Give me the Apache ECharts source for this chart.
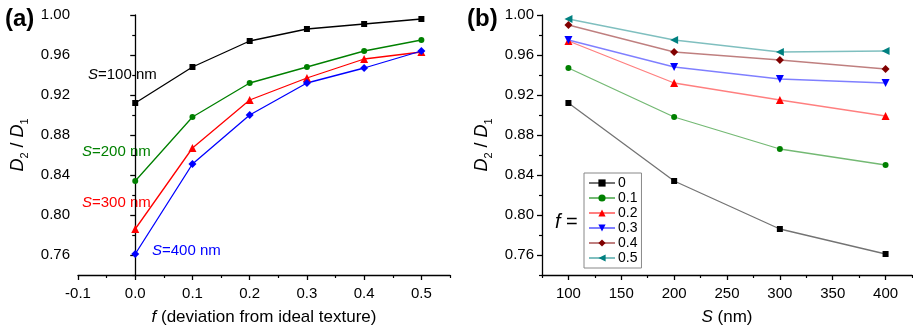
<!DOCTYPE html>
<html>
<head>
<meta charset="utf-8">
<script src="https://cdn.jsdelivr.net/npm/echarts@6/dist/echarts.min.js"></script>
<style>
  html, body { margin: 0; padding: 0; background: #fff; }
  #chart { width: 913px; height: 333px; }
</style>
</head>
<body>
<div id="chart"></div>
<script>
// panel (a): D2/D1 vs f, one line per S
const fValues = [0, 0.1, 0.2, 0.3, 0.4, 0.5];
const ratioS100 = [0.912, 0.948, 0.974, 0.986, 0.991, 0.996];
const ratioS200 = [0.834, 0.898, 0.932, 0.948, 0.964, 0.975];
const ratioS300 = [0.786, 0.867, 0.915, 0.937, 0.956, 0.963];
const ratioS400 = [0.761, 0.851, 0.900, 0.932, 0.947, 0.964];

// panel (b): D2/D1 vs S, one line per f
const sValues = [100, 200, 300, 400];
const ratioF00 = [0.912, 0.834, 0.786, 0.761];
const ratioF01 = [0.947, 0.898, 0.866, 0.850];
const ratioF02 = [0.974, 0.932, 0.915, 0.899];
const ratioF03 = [0.975, 0.948, 0.936, 0.932];
const ratioF04 = [0.990, 0.963, 0.955, 0.946];
const ratioF05 = [0.996, 0.975, 0.963, 0.964];

const yLabelTicks = [0.76, 0.80, 0.84, 0.88, 0.92, 0.96, 1.00];
const yMinorTicks = [0.74, 0.78, 0.82, 0.86, 0.90, 0.94, 0.98];
const xaLabelTicks = [-0.1, 0, 0.1, 0.2, 0.3, 0.4, 0.5];
const xaMinorTicks = [-0.05, 0.05, 0.15, 0.25, 0.35, 0.45, 0.55];
const xbLabelTicks = [100, 150, 200, 250, 300, 350, 400];
const xbMinorTicks = [75, 125, 175, 225, 275, 325, 375, 425];

const FONT = "Liberation Sans";
const zip = (xs, ys) => xs.map((x, i) => [x, ys[i]]);

function mainAxis(gridIndex, min, max, labels, fmt, margin) {
  return {
    type: "value", gridIndex, min, max,
    axisLine: { show: true, lineStyle: { color: "#000", width: 1.3 } },
    axisTick: { show: true, inside: false, length: 5, customValues: labels, lineStyle: { color: "#000", width: 1.3 } },
    axisLabel: { customValues: labels, formatter: fmt, margin, color: "#000", fontSize: 15, fontFamily: FONT },
    splitLine: { show: false },
  };
}
function minorAxis(gridIndex, min, max, ticks) {
  return {
    type: "value", gridIndex, min, max,
    axisLine: { show: false },
    axisTick: { show: true, length: 3, customValues: ticks, lineStyle: { color: "#000", width: 1.2 } },
    axisLabel: { show: false },
    splitLine: { show: false },
  };
}

const yName = {
  name: "{i|D}{s|2}{n| / }{i|D}{s|1}",
  nameLocation: "middle",
  nameRotate: 90,
  nameGap: 48,
  nameTextStyle: {
    rich: {
      i: { fontFamily: FONT, fontStyle: "italic", fontSize: 18, lineHeight: 24, color: "#000" },
      n: { fontFamily: FONT, fontSize: 18, lineHeight: 24, color: "#000" },
      s: { fontFamily: FONT, fontSize: 11, lineHeight: 12, verticalAlign: "bottom", color: "#000" },
    },
  },
};
const xNameStyle = {
  rich: { i: { fontFamily: FONT, fontStyle: "italic", fontSize: 17, color: "#000" } },
  fontFamily: FONT, fontSize: 17, color: "#000",
};

const fmtY = (v) => v.toFixed(2);
const fmtXa = (v) => v.toFixed(1);
const fmtXb = (v) => String(v);

function lineSeries(name, xAxisIndex, yAxisIndex, data, color, symbol, size, rotate, opacity) {
  return {
    type: "line", name, xAxisIndex, yAxisIndex, data,
    symbol, symbolSize: size, symbolRotate: rotate,
    lineStyle: { color, width: 1.3, opacity },
    itemStyle: { color },
    emphasis: { disabled: true },
  };
}

const option = {
  animation: false,
  backgroundColor: "#fff",
  grid: [
    { left: 78, top: 15, width: 372, height: 260 },
    { left: 542, top: 15, width: 370, height: 260 },
  ],
  xAxis: [
    Object.assign(mainAxis(0, -0.1, 0.55, xaLabelTicks, fmtXa, 11), {
      name: "{i|f} (deviation from ideal texture)",
      nameLocation: "middle", nameGap: 34, nameTextStyle: xNameStyle,
    }),
    Object.assign(mainAxis(1, 75, 425, xbLabelTicks, fmtXb, 11), {
      name: "{i|S} (nm)",
      nameLocation: "middle", nameGap: 34, nameTextStyle: xNameStyle,
    }),
    Object.assign(minorAxis(0, -0.1, 0.55, xaMinorTicks), { position: "bottom" }),
    Object.assign(minorAxis(1, 75, 425, xbMinorTicks), { position: "bottom" }),
  ],
  yAxis: [
    Object.assign(mainAxis(0, 0.74, 1.0, yLabelTicks, fmtY, 8), yName),
    Object.assign(mainAxis(1, 0.74, 1.0, yLabelTicks, fmtY, 8), yName),
    Object.assign(minorAxis(0, 0.74, 1.0, yMinorTicks), { position: "left" }),
    Object.assign(minorAxis(1, 0.74, 1.0, yMinorTicks), { position: "left" }),
  ],
  legend: {
    show: true,
    orient: "vertical",
    left: 584, top: 173,
    padding: [3, 4, 3, 4],
    itemGap: 1,
    itemWidth: 26, itemHeight: 9,
    borderColor: "#888", borderWidth: 1,
    textStyle: { fontFamily: FONT, fontSize: 14, lineHeight: 14, color: "#000", padding: [0, 0, 0, -2] },
    data: ["0", "0.1", "0.2", "0.3", "0.4", "0.5"],
  },
  series: [
    lineSeries("S100", 0, 0, zip(fValues, ratioS100), "#000000", "rect", 6, 0, 1),
    lineSeries("S200", 0, 0, zip(fValues, ratioS200), "#008000", "circle", 6, 0, 1),
    lineSeries("S300", 0, 0, zip(fValues, ratioS300), "#ff0000", "triangle", 8, 0, 1),
    lineSeries("S400", 0, 0, zip(fValues, ratioS400), "#0000ff", "diamond", 8, 0, 1),
    lineSeries("0", 1, 1, zip(sValues, ratioF00), "#000000", "rect", 6, 0, 0.55),
    lineSeries("0.1", 1, 1, zip(sValues, ratioF01), "#008000", "circle", 6, 0, 0.55),
    lineSeries("0.2", 1, 1, zip(sValues, ratioF02), "#ff0000", "triangle", 8, 0, 0.5),
    lineSeries("0.3", 1, 1, zip(sValues, ratioF03), "#0000ff", "triangle", 8, 180, 0.5),
    lineSeries("0.4", 1, 1, zip(sValues, ratioF04), "#800000", "diamond", 8, 0, 0.5),
    lineSeries("0.5", 1, 1, zip(sValues, ratioF05), "#008080", "triangle", 8, 90, 0.5),
  ],
  graphic: [
    { type: "text", x: 5, y: 19, style: { text: "(a)", font: "bold 24px " + FONT, fill: "#000", verticalAlign: "middle" } },
    { type: "text", x: 467, y: 19, style: { text: "(b)", font: "bold 24px " + FONT, fill: "#000", verticalAlign: "middle" } },
    { type: "text", x: 88, y: 75, style: { text: "{i|S}=100 nm", fill: "#000", font: "15px " + FONT, verticalAlign: "middle",
      rich: { i: { fontStyle: "italic", fontSize: 15, fontFamily: FONT, fill: "#000" } } } },
    { type: "text", x: 82, y: 152, style: { text: "{i|S}=200 nm", fill: "#008000", font: "15px " + FONT, verticalAlign: "middle",
      rich: { i: { fontStyle: "italic", fontSize: 15, fontFamily: FONT, fill: "#008000" } } } },
    { type: "text", x: 82, y: 203, style: { text: "{i|S}=300 nm", fill: "#ff0000", font: "15px " + FONT, verticalAlign: "middle",
      rich: { i: { fontStyle: "italic", fontSize: 15, fontFamily: FONT, fill: "#ff0000" } } } },
    { type: "text", x: 152, y: 251, style: { text: "{i|S}=400 nm", fill: "#0000ff", font: "15px " + FONT, verticalAlign: "middle",
      rich: { i: { fontStyle: "italic", fontSize: 15, fontFamily: FONT, fill: "#0000ff" } } } },
    { type: "text", x: 555, y: 222, style: { text: "{i|f} =", fill: "#000", font: "20px " + FONT, verticalAlign: "middle",
      rich: { i: { fontStyle: "italic", fontSize: 20, fontFamily: FONT, fill: "#000" } } } },
  ],
};

const chart = echarts.init(document.getElementById("chart"), null, { renderer: "canvas" });
chart.setOption(option);
</script>
</body>
</html>
